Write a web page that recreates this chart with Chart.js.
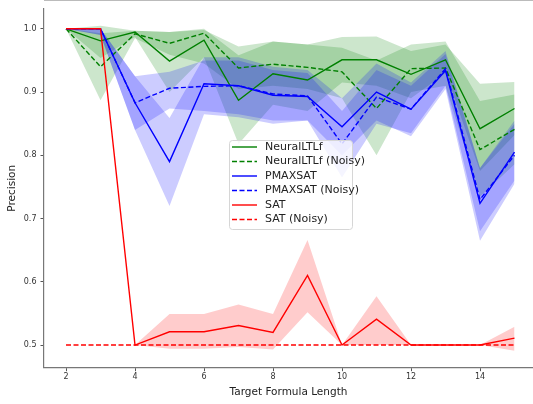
<!DOCTYPE html>
<html>
<head>
<meta charset="utf-8">
<script src="https://cdn.jsdelivr.net/npm/chart.js@4.4.1/dist/chart.umd.min.js"></script>
<style>
  body { margin: 0; background: #fff; }
  canvas { display: block; }
</style>
</head>
<body>
<canvas id="precisionChart" width="533" height="404"></canvas>
<script>
// Target formula length (x axis)
const lengths = [2, 3, 4, 5, 6, 7, 8, 9, 10, 11, 12, 13, 14, 15];

// mean precision per method
const neural       = [1.0, 0.981, 0.995, 0.949, 0.982, 0.887, 0.929, 0.919, 0.951, 0.951, 0.928, 0.951, 0.842, 0.874];
const neuralNoisy  = [1.0, 0.940, 0.992, 0.977, 0.993, 0.938, 0.944, 0.939, 0.932, 0.874, 0.937, 0.938, 0.809, 0.841];
const pmaxsat      = [1.0, 1.0, 0.883, 0.790, 0.913, 0.910, 0.895, 0.893, 0.845, 0.900, 0.873, 0.934, 0.724, 0.805];
const pmaxsatNoisy = [1.0, 1.0, 0.883, 0.906, 0.909, 0.910, 0.897, 0.894, 0.818, 0.892, 0.873, 0.937, 0.730, 0.800];
const sat          = [1.0, 1.0, 0.5, 0.521, 0.521, 0.531, 0.520, 0.610, 0.5, 0.541, 0.5, 0.5, 0.5, 0.511];
const satNoisy     = [0.5, 0.5, 0.5, 0.5, 0.5, 0.5, 0.5, 0.5, 0.5, 0.5, 0.5, 0.5, 0.5, 0.5];

// shaded spread (low / high) per method
const neuralLo       = [1.0, 0.954, 0.987, 0.900, 0.955, 0.818, 0.880, 0.870, 0.915, 0.910, 0.890, 0.930, 0.775, 0.832];
const neuralHi       = [1.0, 1.005, 0.997, 0.995, 1.000, 0.958, 0.980, 0.975, 0.987, 0.988, 0.965, 0.975, 0.913, 0.916];
const neuralNoisyLo  = [1.0, 0.887, 0.985, 0.959, 0.945, 0.905, 0.910, 0.905, 0.890, 0.800, 0.900, 0.910, 0.735, 0.786];
const neuralNoisyHi  = [1.0, 0.993, 0.997, 0.995, 0.998, 0.972, 0.980, 0.975, 0.970, 0.950, 0.975, 0.980, 0.886, 0.896];
const pmaxsatLo      = [1.0, 0.990, 0.840, 0.720, 0.865, 0.860, 0.850, 0.855, 0.800, 0.855, 0.830, 0.905, 0.665, 0.755];
const pmaxsatHi      = [1.0, 1.000, 0.925, 0.859, 0.955, 0.955, 0.940, 0.935, 0.890, 0.945, 0.915, 0.965, 0.780, 0.855];
const pmaxsatNoisyLo = [1.0, 0.990, 0.840, 0.874, 0.870, 0.865, 0.855, 0.855, 0.765, 0.850, 0.835, 0.910, 0.680, 0.760];
const pmaxsatNoisyHi = [1.0, 1.000, 0.925, 0.932, 0.950, 0.950, 0.935, 0.930, 0.870, 0.935, 0.910, 0.960, 0.780, 0.850];
const satLo          = [1.0, 1.0, 0.5, 0.494, 0.494, 0.497, 0.493, 0.552, 0.5, 0.5, 0.5, 0.5, 0.5, 0.491];
const satHi          = [1.0, 1.0, 0.5, 0.549, 0.549, 0.564, 0.549, 0.666, 0.5, 0.577, 0.5, 0.5, 0.5, 0.529];

const xTicks = [2, 4, 6, 8, 10, 12, 14];
const yTicks = [0.5, 0.6, 0.7, 0.8, 0.9, 1.0];

const FONT = "'DejaVu Sans', sans-serif";
const DASH = [5, 2.5];

function points(ys) {
    return ys.map((y, i) => ({ x: lengths[i], y: y }));
}

function line(label, ys, color, dashed, order) {
    return {
        label: label,
        data: points(ys),
        borderColor: color,
        backgroundColor: color,
        borderWidth: 1.4,
        borderDash: dashed ? DASH : [],
        pointRadius: 0,
        fill: false,
        order: order,
        inLegend: true
    };
}

// upper edge fills down to the next dataset (the lower edge)
function band(hi, lo, fillColor, order) {
    return [
        { data: points(hi), borderWidth: 0, pointRadius: 0, backgroundColor: fillColor, fill: '+1', order: order },
        { data: points(lo), borderWidth: 0, pointRadius: 0, backgroundColor: 'transparent', fill: false, order: order }
    ];
}

const datasets = [
    line('NeuralLTLf', neural, '#008000', false, 5),
    line('NeuralLTLf (Noisy)', neuralNoisy, '#008000', true, 4),
    line('PMAXSAT', pmaxsat, '#0000ff', false, 3),
    line('PMAXSAT (Noisy)', pmaxsatNoisy, '#0000ff', true, 2),
    line('SAT', sat, '#ff0000', false, 1),
    line('SAT (Noisy)', satNoisy, '#ff0000', true, 0),
    ...band(neuralHi, neuralLo, 'rgba(0,128,0,0.2)', 20),
    ...band(neuralNoisyHi, neuralNoisyLo, 'rgba(0,128,0,0.2)', 19),
    ...band(pmaxsatHi, pmaxsatLo, 'rgba(0,0,255,0.2)', 18),
    ...band(pmaxsatNoisyHi, pmaxsatNoisyLo, 'rgba(0,0,255,0.2)', 17),
    ...band(satHi, satLo, 'rgba(255,0,0,0.2)', 16)
];

// legend drawn inside the plot like matplotlib's
const insideLegend = {
    id: 'insideLegend',
    afterDraw(chart) {
        const ctx = chart.ctx;
        const area = chart.chartArea;
        const items = chart.data.datasets.filter(d => d.inLegend);
        const bx = 229, by = 140, bw = 123, bh = 89;
        ctx.save();
        // thin top frame line of the axes
        ctx.beginPath();
        ctx.strokeStyle = '#bbb';
        ctx.lineWidth = 1;
        ctx.moveTo(area.left, 0.5);
        ctx.lineTo(area.right, 0.5);
        ctx.stroke();

        ctx.beginPath();
        ctx.roundRect(bx + 0.5, by + 0.5, bw, bh, 3);
        ctx.fillStyle = 'rgba(255,255,255,0.8)';
        ctx.fill();
        ctx.strokeStyle = '#d6d6d6';
        ctx.lineWidth = 1;
        ctx.stroke();
        ctx.font = '11px ' + FONT;
        ctx.textBaseline = 'middle';
        items.forEach((d, i) => {
            const y = 147 + i * 14.5;
            ctx.beginPath();
            ctx.setLineDash(d.borderDash);
            ctx.strokeStyle = d.borderColor;
            ctx.lineWidth = 1.4;
            ctx.moveTo(232, y);
            ctx.lineTo(257, y);
            ctx.stroke();
            ctx.setLineDash([]);
            ctx.fillStyle = '#222';
            ctx.fillText(d.label, 265, y);
        });
        ctx.restore();
    }
};

const ctx = document.getElementById('precisionChart').getContext('2d');
const precisionChart = new Chart(ctx, {
    type: 'line',
    data: { datasets: datasets },
    options: {
        responsive: false,
        animation: false,
        devicePixelRatio: 1,
        layout: { padding: 0 },
        plugins: {
            legend: { display: false },
            tooltip: { enabled: false }
        },
        scales: {
            x: {
                type: 'linear',
                min: 1.362,
                max: 15.536,
                afterBuildTicks: (scale) => { scale.ticks = xTicks.map(v => ({ value: v })); },
                afterFit: (scale) => { scale.height = 36.3; },
                grid: { drawOnChartArea: false, drawTicks: true, tickLength: 3.5, tickColor: '#555' },
                border: { color: '#777', width: 1.2 },
                ticks: { font: { family: FONT, size: 8 }, color: '#333', padding: 1, maxRotation: 0 },
                title: {
                    display: true,
                    text: 'Target Formula Length',
                    font: { family: FONT, size: 10.5 },
                    color: '#222',
                    padding: { top: 0, bottom: 5 }
                }
            },
            y: {
                type: 'linear',
                min: 0.4642,
                max: 1.0316,
                afterBuildTicks: (scale) => { scale.ticks = yTicks.map(v => ({ value: v })); },
                afterFit: (scale) => { scale.width = 44; },
                grid: { drawOnChartArea: false, drawTicks: true, tickLength: 3.5, tickColor: '#555' },
                border: { color: '#777', width: 1.2 },
                ticks: {
                    font: { family: FONT, size: 8 },
                    color: '#333',
                    padding: 4,
                    callback: (v) => v.toFixed(1)
                },
                title: {
                    display: true,
                    text: 'Precision',
                    font: { family: FONT, size: 10.5 },
                    color: '#222',
                    padding: { top: 6, bottom: 0 }
                }
            }
        }
    },
    plugins: [insideLegend]
});
</script>
</body>
</html>
